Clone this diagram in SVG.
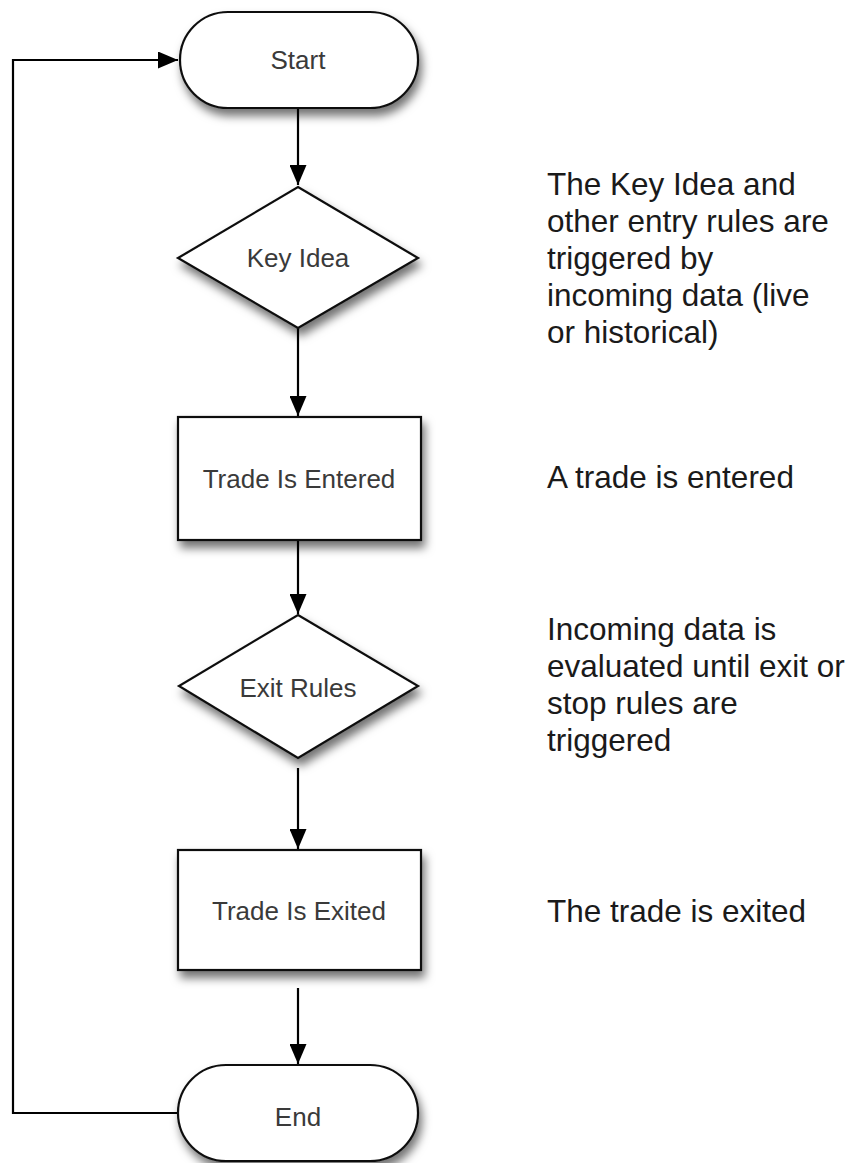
<svg xmlns="http://www.w3.org/2000/svg" width="855" height="1163" viewBox="0 0 855 1163">
<style>
.shape{fill:#fff;stroke:#111;stroke-width:2.2;filter:url(#sh)}
.lbl{font-family:"Liberation Sans",Arial,sans-serif;font-size:26px;fill:#3a3a3a;text-anchor:middle}
.note{font-family:"Liberation Sans",Arial,sans-serif;font-size:31.5px;fill:#1a1a1a}
.conn{fill:none;stroke:#000;stroke-width:2.2}
</style>
<defs>
<filter id="sh" x="-20%" y="-20%" width="150%" height="170%">
<feDropShadow dx="3" dy="7" stdDeviation="5" flood-color="#000" flood-opacity="0.55"/>
</filter>
<marker id="ah" markerUnits="userSpaceOnUse" markerWidth="20" markerHeight="17" refX="20" refY="8.5" orient="auto">
<path d="M0,0 L20,8.5 L0,17 z" fill="#000"/>
</marker>
</defs>
<rect width="855" height="1163" fill="#fff"/>
<g id="connectors">
<path class="conn" d="M298,108 V185" marker-end="url(#ah)"/>
<path class="conn" d="M298,328 V416" marker-end="url(#ah)"/>
<path class="conn" d="M298,540 V614" marker-end="url(#ah)"/>
<path class="conn" d="M298,768 V849" marker-end="url(#ah)"/>
<path class="conn" d="M298,988 V1064" marker-end="url(#ah)"/>
<path class="conn" d="M178,1113 H13 V60 H178" marker-end="url(#ah)"/>
</g>
<g id="start">
<rect class="shape" x="180" y="12" width="238" height="96" rx="48" ry="48"/>
<text class="lbl" x="298" y="69">Start</text>
</g>
<g id="keyidea">
<polygon class="shape" points="298,187 418,258 298,328 178,258"/>
<text class="lbl" x="298" y="267">Key Idea</text>
</g>
<g id="entered">
<rect class="shape" x="178" y="417" width="243" height="123"/>
<text class="lbl" x="299" y="488">Trade Is Entered</text>
</g>
<g id="exitrules">
<polygon class="shape" points="298,615 418,686 298,758 179,686"/>
<text class="lbl" x="298" y="697">Exit Rules</text>
</g>
<g id="exited">
<rect class="shape" x="178" y="850" width="243" height="120"/>
<text class="lbl" x="299" y="920">Trade Is Exited</text>
</g>
<g id="end">
<rect class="shape" x="178" y="1065" width="240" height="96" rx="48" ry="48"/>
<text class="lbl" x="298" y="1126">End</text>
</g>
<g id="notes">
<text class="note" x="547"><tspan x="547" y="195">The Key Idea and</tspan><tspan x="547" y="232">other entry rules are</tspan><tspan x="547" y="269">triggered by</tspan><tspan x="547" y="306">incoming data (live</tspan><tspan x="547" y="343">or historical)</tspan></text>
<text class="note" x="547" y="488">A trade is entered</text>
<text class="note" x="547"><tspan x="547" y="640">Incoming data is</tspan><tspan x="547" y="677">evaluated until exit or</tspan><tspan x="547" y="714">stop rules are</tspan><tspan x="547" y="751">triggered</tspan></text>
<text class="note" x="547" y="922">The trade is exited</text>
</g>
</svg>
